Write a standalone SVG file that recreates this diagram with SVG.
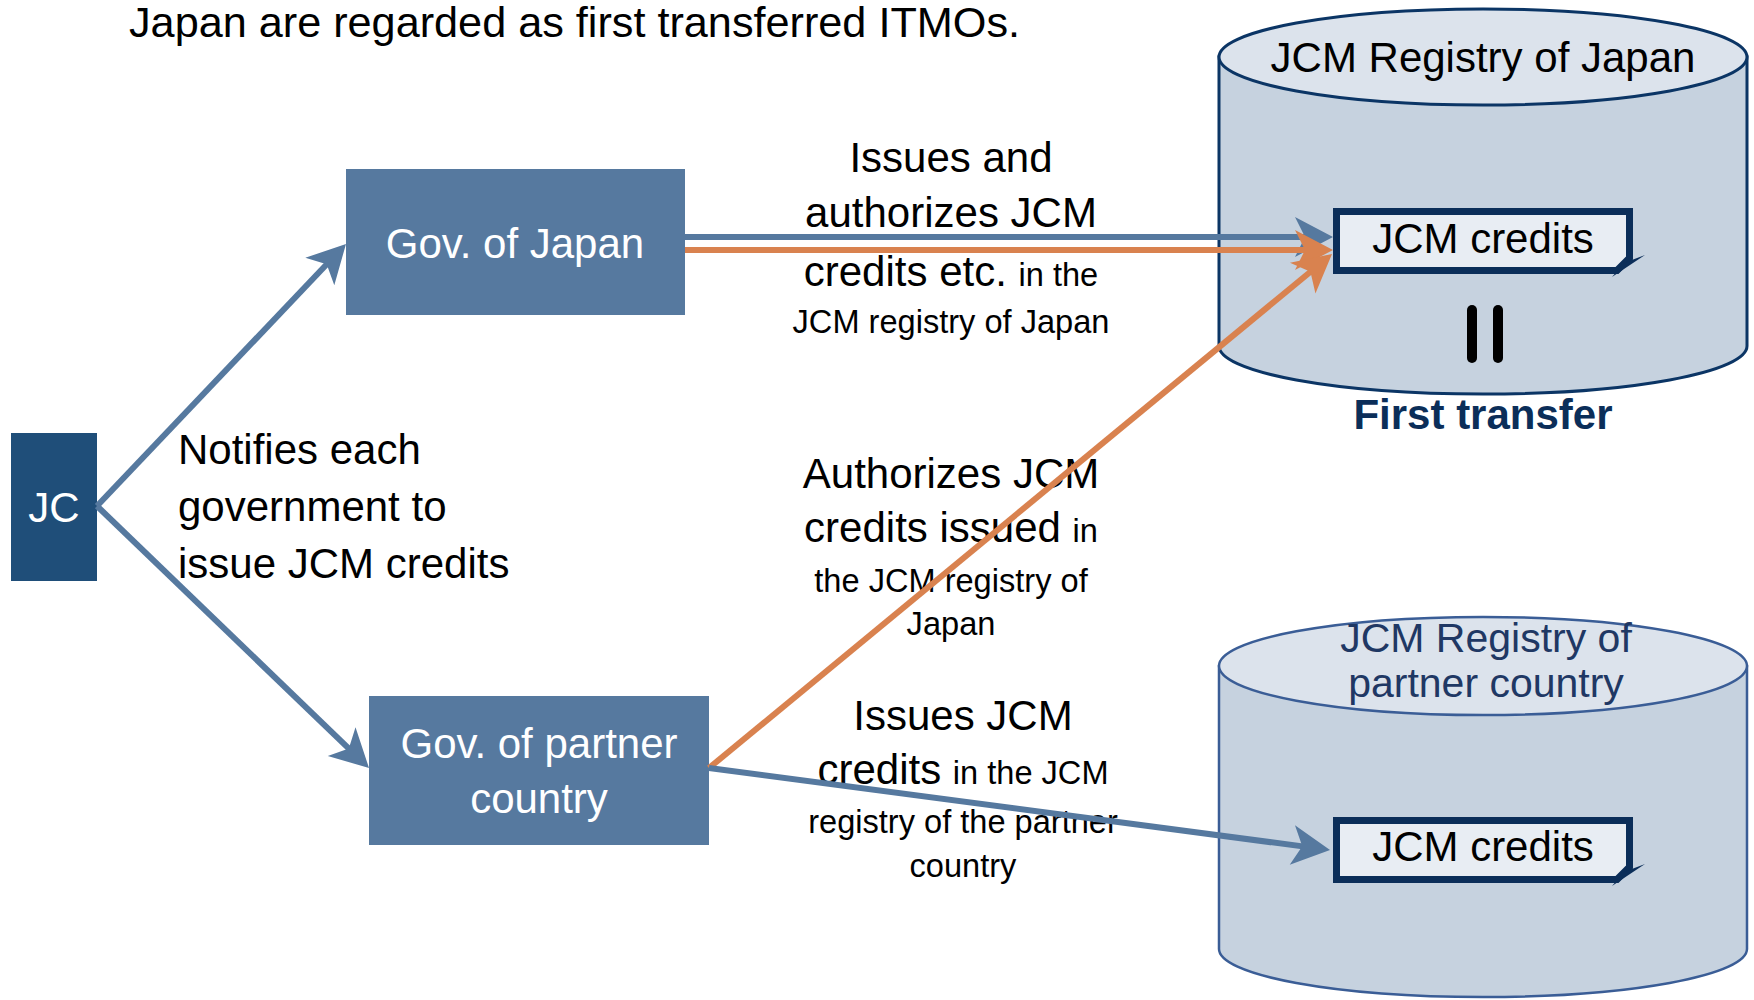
<svg xmlns="http://www.w3.org/2000/svg" width="1754" height="1000" viewBox="0 0 1754 1000">
<defs>
<style>
text{font-family:"Liberation Sans","Noto Sans",Arial,sans-serif;}
.big{font-size:42px;fill:#000;}
.sm{font-size:32.6px;}
.ctr{text-anchor:middle;}
.wt{fill:#fff;font-size:42px;text-anchor:middle;}
.box{fill:#56799F;}
.body1{fill:#C6D2DF;stroke:#0B3565;stroke-width:3;}
.top1{fill:#DCE3EC;stroke:#0B3565;stroke-width:3;}
.body2{fill:#C6D2DF;stroke:#3A5D96;stroke-width:2.5;}
.top2{fill:#DCE3EC;stroke:#3A5D96;stroke-width:2.5;}
.cred{fill:#E8EDF3;stroke:#0B2E59;stroke-width:7;}
.ear{fill:#0B2E59;}
.reg2{font-size:41px;fill:#1F3864;text-anchor:middle;}
.lb{stroke:#56799F;stroke-width:6;fill:none;marker-end:url(#ab);}
.lo{stroke:#D9824F;stroke-width:6;fill:none;marker-end:url(#ao);}
</style>
<marker id="ab" markerUnits="userSpaceOnUse" viewBox="-20 -22 44 44" refX="0" refY="0" markerWidth="44" markerHeight="44" orient="auto"><path d="M20,0 L-18,-20 L-8,0 L-18,20 Z" fill="#56799F"/></marker>
<marker id="ao" markerUnits="userSpaceOnUse" viewBox="-20 -22 44 44" refX="0" refY="0" markerWidth="44" markerHeight="44" orient="auto"><path d="M20,0 L-18,-20 L-8,0 L-18,20 Z" fill="#D9824F"/></marker>
</defs>
<rect width="1754" height="1000" fill="#fff"/>

<text class="big" x="129" y="37" textLength="891" lengthAdjust="spacingAndGlyphs">Japan are regarded as first transferred ITMOs.</text>

<g id="registry-japan">
<path class="body1" d="M1219,57 L1219,346 A264,48 0 0 0 1747,346 L1747,57 Z"/>
<ellipse class="top1" cx="1483" cy="57" rx="264" ry="48"/>
<text class="big ctr" x="1483" y="72">JCM Registry of Japan</text>
</g>

<g id="registry-partner">
<path class="body2" d="M1219,666 L1219,949 A264,48 0 0 0 1747,949 L1747,666 Z"/>
<ellipse class="top2" cx="1483" cy="666" rx="264" ry="49"/>
<text class="reg2" x="1486" y="652">JCM Registry of</text>
<text class="reg2" x="1486" y="697">partner country</text>
</g>

<g id="credits-japan">
<path class="cred" d="M1336.5,211.5 H1629.5 V258 L1617,270.5 H1336.5 Z"/>
<polygon class="ear" points="1612,277 1645,255 1624,263"/>
<text class="big ctr" x="1483" y="253">JCM credits</text>
</g>

<g id="equals">
<line x1="1472" y1="310" x2="1472" y2="358" stroke="#000" stroke-width="10" stroke-linecap="round"/>
<line x1="1498" y1="310" x2="1498" y2="358" stroke="#000" stroke-width="10" stroke-linecap="round"/>
</g>

<g id="first-transfer">
<text class="ctr" x="1483" y="429" style="font-size:42px;font-weight:bold;fill:#0B2E59">First transfer</text>
</g>

<g id="credits-partner">
<path class="cred" d="M1336.5,820.5 H1629.5 V867 L1617,879.5 H1336.5 Z"/>
<polygon class="ear" points="1612,886 1645,864 1624,872"/>
<text class="big ctr" x="1483" y="861">JCM credits</text>
</g>

<g id="jc">
<rect x="11" y="433" width="86" height="148" fill="#1F4E79"/>
<text class="wt" x="54" y="522">JC</text>
</g>

<g id="gov-japan">
<rect class="box" x="346" y="169" width="339" height="146"/>
<text class="wt" x="515" y="258">Gov. of Japan</text>
</g>

<g id="gov-partner">
<rect class="box" x="369" y="696" width="340" height="149"/>
<text class="wt" x="539" y="758">Gov. of partner</text>
<text class="wt" x="539" y="813">country</text>
</g>

<g id="labels">
<text class="big" x="178" y="464">Notifies each</text>
<text class="big" x="178" y="521">government to</text>
<text class="big" x="178" y="578">issue JCM credits</text>

<text class="big ctr" x="951" y="172">Issues and</text>
<text class="big ctr" x="951" y="227">authorizes JCM</text>
<text class="big ctr" x="951" y="286">credits etc. <tspan class="sm">in the</tspan></text>
<text class="big ctr sm" x="951" y="333">JCM registry of Japan</text>

<text class="big ctr" x="951" y="488">Authorizes JCM</text>
<text class="big ctr" x="951" y="542">credits issued <tspan class="sm">in</tspan></text>
<text class="big ctr sm" x="951" y="592">the JCM registry of</text>
<text class="big ctr sm" x="951" y="635">Japan</text>

<text class="big ctr" x="963" y="730">Issues JCM</text>
<text class="big ctr" x="963" y="784">credits <tspan class="sm">in the JCM</tspan></text>
<text class="big ctr sm" x="963" y="833">registry of the partner</text>
<text class="big ctr sm" x="963" y="877">country</text>
</g>

<g id="connectors">
<line class="lb" x1="97" y1="506" x2="332.2" y2="258.5"/>
<line class="lb" x1="97" y1="506" x2="354.6" y2="754.1"/>
<line class="lb" x1="685" y1="237" x2="1313" y2="237"/>
<line class="lo" x1="685" y1="250" x2="1313" y2="250"/>
<line class="lo" x1="709" y1="768" x2="1316.6" y2="266.7"/>
<line class="lb" x1="709" y1="768" x2="1310.2" y2="847.4"/>
</g>
</svg>
